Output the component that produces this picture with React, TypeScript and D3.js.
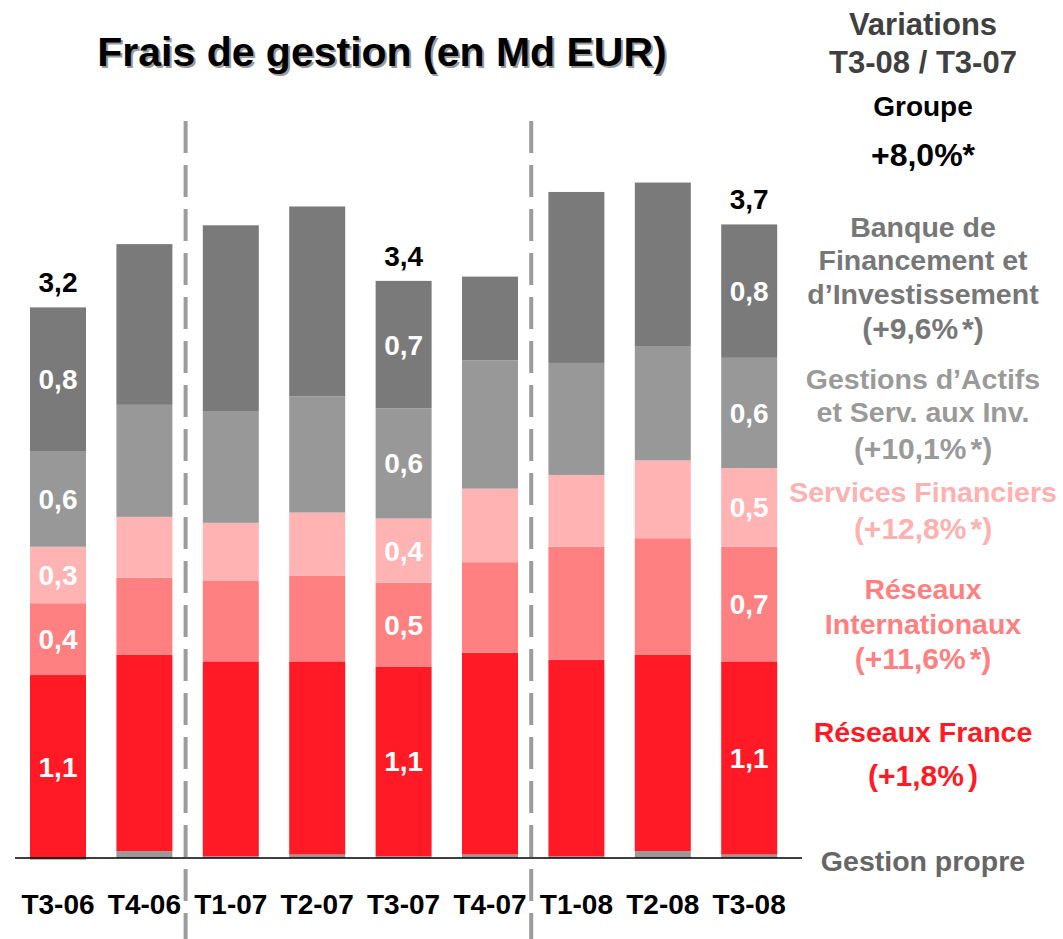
import React from "react";
import * as d3 from "d3";

const categories = ["T3-06", "T4-06", "T1-07", "T2-07", "T3-07", "T4-07", "T1-08", "T2-08", "T3-08"];
const gestionPropre = [-0.01, 0.04, 0.01, 0.02, 0.01, 0.02, 0.01, 0.04, 0.02];
const reseauxFrance = [1.07, 1.15, 1.14, 1.13, 1.11, 1.18, 1.15, 1.15, 1.13];
const reseauxInternationaux = [0.42, 0.45, 0.47, 0.5, 0.49, 0.53, 0.66, 0.68, 0.67];
const servicesFinanciers = [0.33, 0.355, 0.34, 0.37, 0.375, 0.43, 0.42, 0.455, 0.46];
const gestionsActifs = [0.56, 0.655, 0.65, 0.68, 0.645, 0.75, 0.655, 0.665, 0.645];
const banqueFinancement = [0.84, 0.94, 1.09, 1.11, 0.745, 0.49, 1.0, 0.96, 0.78];
const labeledCategories = ["T3-06", "T3-07", "T3-08"];
const separatorsAfter = ["T4-06", "T4-07"];

const seriesKeys = ["gp", "rf", "ri", "sf", "gis", "bfi"];
const seriesColors: Record<string, string> = {
  gp: "#999999",
  rf: "#ff1a26",
  ri: "#ff8080",
  sf: "#ffb3b3",
  gis: "#989898",
  bfi: "#7a7a7a",
};

const title = "Frais de gestion (en Md EUR)";
const headerLines = [
  { text: "Variations", color: "#404040", size: 31 },
  { text: "T3-08 / T3-07", color: "#404040", size: 31 },
  { text: "Groupe", color: "#000000", size: 28 },
  { text: "+8,0%*", color: "#000000", size: 32 },
];
const legendBlocks = [
  { key: "bfi", lines: ["Banque de", "Financement et", "d\u2019Investissement", "(+9,6%*)"], color: "#777777" },
  { key: "gis", lines: ["Gestions d\u2019Actifs", "et Serv. aux Inv.", "(+10,1%*)"], color: "#9a9a9a" },
  { key: "sf", lines: ["Services Financiers", "(+12,8%*)"], color: "#ffb0b0" },
  { key: "ri", lines: ["R\u00e9seaux", "Internationaux", "(+11,6%*)"], color: "#ff8080" },
  { key: "rf", lines: ["R\u00e9seaux France", "(+1,8%)"], color: "#ff1a26" },
  { key: "gp", lines: ["Gestion propre"], color: "#666666" },
];
const headerBaselines = [35, 73, 116, 166];
const legendBaselines = [
  [237, 270, 304, 339],
  [389, 422, 459],
  [502, 539],
  [599, 634, 669],
  [742, 786],
  [871],
];

const FONT = "'Liberation Sans', Arial, Helvetica, sans-serif";

function renderLine(l: string) {
  // parenthesised percentages carry a small gap before the asterisk / closing paren
  if (l.startsWith("(") && l.includes("%")) {
    const i = l.indexOf("%");
    const rest = l.slice(i + 1);
    return (
      <>
        {l.slice(0, i + 1)}
        <tspan dx={4}>{rest}</tspan>
      </>
    );
  }
  return l;
}

export default function App() {
  const W = 1063;
  const H = 939;
  const baseY = 858;
  const table = categories.map((c, i) => ({
    cat: c,
    gp: gestionPropre[i],
    rf: reseauxFrance[i],
    ri: reseauxInternationaux[i],
    sf: servicesFinanciers[i],
    gis: gestionsActifs[i],
    bfi: banqueFinancement[i],
  }));

  const x = d3
    .scaleBand<string>()
    .domain(categories)
    .range([14.8, 792.4])
    .paddingInner(0.352)
    .paddingOuter(0.176);
  const y = d3.scaleLinear().domain([0, 4]).range([baseY, baseY - 4 * 171]);

  const stack = d3
    .stack<any>()
    .keys(seriesKeys)
    .offset(d3.stackOffsetDiverging)
    .order(d3.stackOrderNone);
  const series = stack(table);

  const fmt = (v: number) => d3.format(".1f")(v).replace(".", ",");
  const legendX = 923;

  return (
    <svg
      width={W}
      height={H}
      style={{ position: "absolute", left: 0, top: 0, background: "#fff" }}
      fontFamily={FONT}
    >
      {/* Title with shadow */}
      <text x={384} y={68} textAnchor="middle" fontSize={41} fontWeight="bold" fill="#9a9a9a">
        {title}
      </text>
      <text x={382} y={66} textAnchor="middle" fontSize={41} fontWeight="bold" fill="#000">
        {title}
      </text>

      {/* dashed separators */}
      {separatorsAfter.map((c) => {
        const sx = (x(c) as number) + x.bandwidth() + (x.step() - x.bandwidth()) / 2 - 2;
        return (
          <line
            key={c}
            x1={sx}
            x2={sx}
            y1={121}
            y2={H}
            stroke="#9c9c9c"
            strokeWidth={4}
            strokeDasharray="32 12"
          />
        );
      })}

      {/* bars */}
      {series.map((s) => (
        <g key={s.key} fill={seriesColors[s.key]}>
          {s.map((d, i) => {
            const y0 = y(d[0]);
            const y1 = y(d[1]);
            return (
              <rect
                key={i}
                x={x(categories[i])}
                width={x.bandwidth()}
                y={Math.min(y0, y1)}
                height={Math.abs(y0 - y1)}
              />
            );
          })}
        </g>
      ))}

      {/* segment labels */}
      {series
        .filter((s) => s.key !== "gp")
        .map((s) =>
          s.map((d, i) => {
            const c = categories[i];
            if (!labeledCategories.includes(c)) return null;
            const cy = (y(d[0]) + y(d[1])) / 2;
            const v = (table[i] as any)[s.key];
            return (
              <text
                key={s.key + i}
                x={(x(c) as number) + x.bandwidth() / 2}
                y={cy + 10}
                textAnchor="middle"
                fontSize={28}
                fontWeight="bold"
                fill="#fff"
              >
                {fmt(v)}
              </text>
            );
          })
        )}

      {/* totals */}
      {table.map((d, i) => {
        if (!labeledCategories.includes(d.cat)) return null;
        const total = seriesKeys.reduce((a, k) => a + (d as any)[k], 0);
        const top = d3.max(series, (s) => s[i][1]) as number;
        return (
          <text
            key={d.cat}
            x={(x(d.cat) as number) + x.bandwidth() / 2}
            y={y(top) - 15}
            textAnchor="middle"
            fontSize={28}
            fontWeight="bold"
            fill="#000"
          >
            {fmt(total)}
          </text>
        );
      })}

      {/* axis line */}
      <line x1={15} x2={802} y1={baseY} y2={baseY} stroke="#000" strokeWidth={1.5} />

      {/* category labels */}
      {categories.map((c) => (
        <text
          key={c}
          x={(x(c) as number) + x.bandwidth() / 2}
          y={914}
          textAnchor="middle"
          fontSize={28}
          fontWeight="bold"
          fill="#000"
        >
          {c}
        </text>
      ))}

      {/* header */}
      {headerLines.map((h, i) => (
        <text
          key={h.text}
          x={legendX}
          y={headerBaselines[i]}
          textAnchor="middle"
          fontSize={h.size}
          fontWeight="bold"
          fill={h.color}
        >
          {h.text}
        </text>
      ))}

      {/* legend blocks */}
      {legendBlocks.map((b, bi) =>
        b.lines.map((l, li) => (
          <text
            key={b.key + li}
            x={legendX}
            y={legendBaselines[bi][li]}
            textAnchor="middle"
            fontSize={l.startsWith("(") ? 30 : 28.5}
            fontWeight="bold"
            fill={b.color}
          >
            {renderLine(l)}
          </text>
        ))
      )}
    </svg>
  );
}
